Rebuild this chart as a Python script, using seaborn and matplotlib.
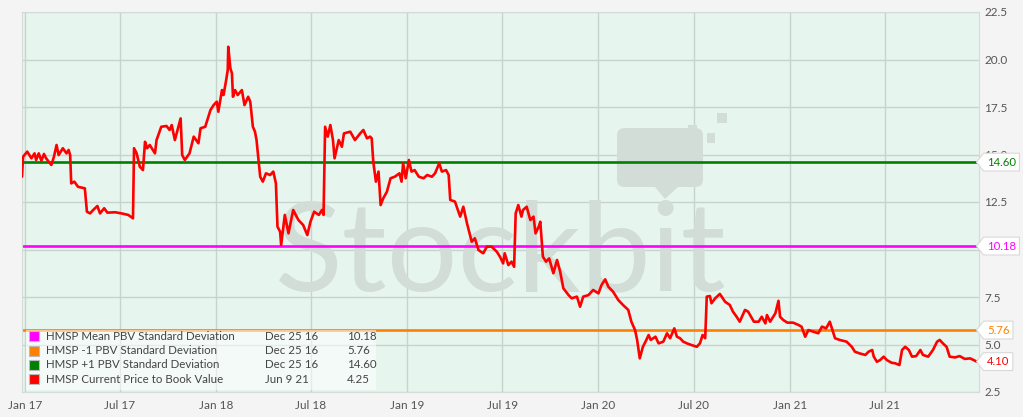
import numpy as np
import pandas as pd
import seaborn as sns
import matplotlib.pyplot as plt
import matplotlib.dates as mdates
from matplotlib.path import Path
from matplotlib.patches import Rectangle, FancyBboxPatch, Polygon

# HMSP price to book value (days counted from 1 Jan 2017)
START = "2017-01-01"

days = [
    -6, -4, 4, 12, 18, 21, 26, 31, 36, 40, 50, 55, 60, 64, 72, 79, 83, 86, 88, 94,
    101, 114, 118, 124, 130, 138, 143, 151, 157, 172, 184, 197, 206, 208, 213, 219, 225, 229, 233, 238,
    248, 251, 260, 270, 276, 280, 286, 292, 297, 300, 305, 314,
    322, 331, 335, 344, 354, 360, 366, 369, 376, 379, 384, 387, 388, 392, 395, 397, 401, 406, 414, 419,
    426, 430, 435, 439, 442, 449, 454, 460, 468, 474, 479, 482, 487, 489, 496, 503, 512, 522, 531, 539,
    545, 552, 561, 567, 570, 573, 578, 583, 588, 591, 599, 605, 609, 621, 630, 640, 646, 653, 659,
    662, 665, 670, 675, 679, 684, 691, 698, 706, 715, 719, 722, 727, 733, 738, 744, 752, 761, 768, 777,
    783, 791, 796, 804, 809, 812, 821, 831, 837, 844, 853, 859, 866, 875, 882, 891, 901, 907, 913, 916,
    923, 929, 934, 937, 942, 948, 951, 958, 965, 971, 975, 981,
    984, 989, 995, 1001, 1009, 1016, 1022, 1028, 1038, 1044, 1054, 1060, 1066, 1076, 1085, 1095, 1101, 1108, 1114, 1123,
    1133, 1142, 1152, 1158, 1165, 1169, 1174, 1180, 1185, 1191, 1195, 1204, 1210, 1219, 1226, 1232, 1240, 1245, 1251, 1257,
    1264, 1273, 1283, 1289, 1294, 1299, 1302, 1308,
    1311, 1318, 1327, 1337, 1346, 1352, 1359, 1365, 1375, 1381, 1392, 1401, 1407, 1414, 1417, 1423, 1433, 1439, 1442, 1448,
    1456, 1467, 1477, 1483, 1490, 1496, 1506, 1515, 1522, 1530, 1537, 1542, 1547, 1556, 1569, 1579, 1585, 1594, 1605, 1611,
    1618, 1621, 1627, 1633, 1640, 1646, 1655, 1662, 1670, 1675, 1681, 1688, 1694, 1702, 1710, 1715, 1725, 1734, 1742, 1747,
    1753, 1760, 1766, 1776, 1785, 1795, 1805, 1812, 1818,
]
pbv = [
    13.83, 14.88, 15.15, 14.80, 15.06, 14.71, 15.06, 14.67, 15.03, 14.80, 14.45, 14.88, 15.50, 14.97, 15.33, 15.06, 15.24, 14.97, 13.48, 13.57,
    13.30, 13.22, 11.99, 11.90, 12.08, 12.29, 11.90, 12.17, 11.94, 11.96, 11.90, 11.82, 11.64, 15.33, 15.06, 14.36, 14.18, 15.67, 15.33, 15.50,
    15.06, 15.76, 16.46, 16.50, 16.29, 16.55, 15.76, 16.38, 16.90, 14.97, 14.71, 15.06,
    15.94, 15.59, 16.38, 16.46, 17.34, 17.60, 17.78, 17.25, 18.39, 18.13, 18.92, 19.45, 20.67, 19.54, 19.27, 18.04, 18.39, 18.13, 18.39, 17.60,
    18.04, 17.78, 16.46, 16.20, 15.76, 13.83, 13.57, 14.01, 13.92, 14.10, 13.48, 11.20, 10.94, 10.24, 11.82, 10.85, 12.08, 11.55, 11.29, 10.76,
    11.46, 11.99, 11.82, 12.08, 11.82, 16.46, 15.94, 16.55, 15.76, 14.80, 15.76, 15.41, 16.11, 16.20, 15.76, 16.11, 16.29, 15.85, 15.94,
    15.85, 14.62, 13.57, 14.10, 12.34, 12.69, 13.04, 13.75, 13.83, 14.01, 13.57, 14.54, 13.75, 14.71, 14.10, 14.18, 13.83, 13.75, 13.92, 13.83,
    14.01, 14.54, 14.10, 14.18, 13.92, 12.61, 12.52, 11.73, 12.25, 11.38, 10.41, 10.59, 9.97, 9.80, 10.15, 10.15, 9.88, 9.62, 9.27, 9.80,
    9.18, 9.36, 9.09, 11.90, 12.34, 11.73, 12.08, 12.25, 11.55, 11.73, 10.85, 11.20,
    11.46, 9.62, 9.36, 9.53, 8.75, 9.45, 8.83, 7.96, 7.60, 7.43, 7.52, 6.99, 7.52, 7.60, 7.87, 7.69, 8.13, 8.43, 8.04, 7.78,
    7.34, 7.08, 6.82, 6.20, 5.76, 5.24, 4.27, 4.88, 5.15, 5.50, 5.24, 5.41, 5.06, 5.15, 5.59, 5.33, 5.85, 5.41, 5.33, 5.15,
    5.06, 4.97, 4.88, 5.06, 5.50, 5.33, 7.52, 7.55,
    7.17, 7.43, 7.66, 7.25, 7.08, 6.73, 6.46, 6.20, 6.82, 6.73, 6.20, 6.20, 6.46, 6.11, 6.55, 6.20, 6.64, 7.30, 6.46, 6.29,
    6.15, 6.15, 6.03, 5.94, 5.41, 5.76, 5.67, 5.59, 5.94, 5.85, 6.20, 5.76, 5.33, 5.24, 5.15, 4.88, 4.62, 4.53, 4.45, 4.62,
    4.71, 4.36, 4.09, 4.18, 4.36, 4.18, 4.04, 4.01, 3.92, 4.71, 4.88, 4.71, 4.36, 4.39, 4.71, 4.45, 4.36, 4.71, 5.15, 5.24,
    5.06, 4.88, 4.36, 4.32, 4.39, 4.24, 4.27, 4.18, 4.09,
]

band_names = ["HMSP Mean PBV Standard Deviation", "HMSP -1 PBV Standard Deviation",
              "HMSP +1 PBV Standard Deviation", "HMSP Current Price to Book Value"]
band_dates = ["Dec 25 16", "Dec 25 16", "Dec 25 16", "Jun 9 21"]
band_values = [10.18, 5.76, 14.60, 4.25]
band_colors = ["#ff00ff", "#ff8000", "#008000", "#ff0000"]
last_value = 4.10

TEXT = "#555555"


def tag_box(x0, y0, width, height, mutation_size):
    # price tag shape: box with a point on the left
    pad = 0.3 * mutation_size
    x0, y0 = x0 - pad, y0 - pad
    x1, y1 = x0 + width + 2 * pad, y0 + height + 2 * pad
    tip = 0.4 * (y1 - y0)
    ym = (y0 + y1) / 2
    return Path([(x0, y0), (x1, y0), (x1, y1), (x0, y1), (x0 - tip, ym), (x0, y0)], closed=True)


def main():
    sns.set_theme(style="white")
    plt.rcParams["font.family"] = ["Lato", "DejaVu Sans"]

    df = pd.DataFrame({
        "date": pd.Timestamp(START) + pd.to_timedelta(days, unit="D"),
        "pbv": pbv,
    })

    fig = plt.figure(figsize=(10.23, 4.17), dpi=100, facecolor="#f4f4f4")
    ax = fig.add_axes([22 / 1023, 25 / 417, 957 / 1023, 380 / 417])
    ax.set_facecolor("#e6f5ee")

    # watermark
    ax.text(0.5, 0.268, "Stockbit", transform=ax.transAxes, ha="center", va="baseline",
            fontsize=90, color="#d2ddd8", zorder=0.8)
    ax.add_patch(FancyBboxPatch((0.6217, 0.5395), 0.0899, 0.1552, transform=ax.transAxes,
                                boxstyle="round,pad=0,rounding_size=0.008", mutation_aspect=2.5,
                                fc="#d2ddd8", ec="none", zorder=0.8))
    ax.add_patch(Polygon([(0.6614, 0.5395), (0.6855, 0.5395), (0.6719, 0.5079)], closed=True,
                         transform=ax.transAxes, fc="#d2ddd8", ec="none", zorder=0.8))
    for sx, sy, sw in [(0.6959, 0.6763, 0.0094), (0.7158, 0.6553, 0.0084), (0.7262, 0.7079, 0.0104)]:
        ax.add_patch(Rectangle((sx, sy), sw, 0.0263, transform=ax.transAxes,
                               fc="#d2ddd8", ec="none", zorder=0.8))

    ax.grid(True, color="#c9d3ce", linewidth=1.0, zorder=0.5)
    ax.set_axisbelow(True)

    for val, col in zip(band_values[:3], band_colors[:3]):
        ax.axhline(val, color=col, linewidth=1.9, zorder=2)

    sns.lineplot(data=df, x="date", y="pbv", color="#ff0000", linewidth=1.9, ax=ax, zorder=3)

    ax.set_xlim(pd.Timestamp("2016-12-26"), pd.Timestamp("2021-12-28"))
    ax.set_ylim(2.5, 22.5)
    ax.set_xlabel("")
    ax.set_ylabel("")

    ax.yaxis.tick_right()
    ax.set_yticks(np.arange(2.5, 22.6, 2.5))
    ax.yaxis.set_major_formatter(plt.FormatStrFormatter("%.1f"))
    ax.xaxis.set_major_locator(mdates.MonthLocator(bymonth=[1, 7]))
    ax.xaxis.set_major_formatter(mdates.DateFormatter("%b %y"))
    ax.tick_params(axis="both", length=0, labelsize=8.5, labelcolor=TEXT)
    ax.tick_params(axis="y", pad=4)
    ax.tick_params(axis="x", pad=6)
    for s in ax.spines.values():
        s.set_color("#d4dcd8")
        s.set_linewidth(0.8)

    # right-hand value tags
    tag_vals = [band_values[2], band_values[0], band_values[1], last_value]
    tag_cols = [band_colors[2], band_colors[0], band_colors[1], band_colors[3]]
    for val, col in zip(tag_vals, tag_cols):
        ax.annotate(f"{val:.2f}", xy=(1, val), xycoords=("axes fraction", "data"),
                    xytext=(8, 0), textcoords="offset pixels", ha="left", va="center",
                    fontsize=8.2, color=col, zorder=5, annotation_clip=False,
                    bbox=dict(boxstyle=tag_box, fc="white", ec="#d9d9d9", lw=0.8))

    # legend table
    ax.add_patch(Rectangle((0.0042, 0.006), 0.366, 0.158, transform=ax.transAxes,
                           fc="white", ec="none", alpha=0.55, zorder=4))
    rows_y = [0.147, 0.108, 0.072, 0.034]
    for y, name, dt, val, col in zip(rows_y, band_names, band_dates, band_values, band_colors):
        ax.add_patch(Rectangle((0.0073, y - 0.013), 0.0105, 0.026, transform=ax.transAxes,
                               fc=col, ec="#bbbbbb", lw=0.8, zorder=5))
        ax.text(0.0251, y, name, transform=ax.transAxes, ha="left", va="center",
                fontsize=8.3, color="#444444", zorder=5)
        ax.text(0.254, y, dt, transform=ax.transAxes, ha="left", va="center",
                fontsize=8.3, color="#444444", zorder=5)
        ax.text(0.3396, y, f"{val:.2f}", transform=ax.transAxes, ha="left", va="center",
                fontsize=8.3, color="#444444", zorder=5)

    fig.savefig("out.png", dpi=100, facecolor=fig.get_facecolor())
    plt.close(fig)


if __name__ == "__main__":
    main()
